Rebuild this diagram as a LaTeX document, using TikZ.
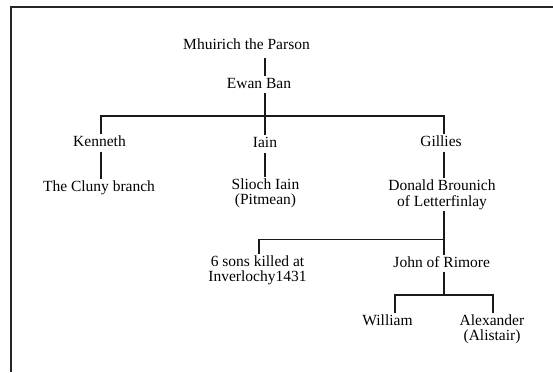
\documentclass[tikz,border=0pt]{standalone}
\usepackage{fontspec}
\setmainfont{Liberation Serif}
\begin{document}
\begin{tikzpicture}[x=1bp,y=-1bp,
  person/.style={anchor=base, inner xsep=0pt, inner ysep=2bp, align=center,
    font=\fontsize{15.5bp}{15.6bp}\selectfont},
  single/.style={person, text height=11bp, text depth=3.5bp},
  link/.style={line width=1.4bp, black!90, line cap=rect},
  frameline/.style={line width=2bp, black!85}]
\useasboundingbox[fill=white] (0,0) rectangle (553,372);
% frame (top and left edges)
\coordinate (fbl) at (11,372);
\coordinate (ftl) at (11,7.3);
\coordinate (ftr) at (553,7.3);
\draw[frameline] (fbl) -- (ftl) -- (ftr);

% column and bar coordinates
\coordinate (colA) at (101,0);
\coordinate (colB) at (265,0);
\coordinate (colC) at (444,0);
\coordinate (colD) at (259,0);
\coordinate (colE) at (395,0);
\coordinate (colF) at (493,0);
\coordinate (bar1) at (0,116);
\coordinate (bar2) at (0,239.5);
\coordinate (bar3) at (0,295);

% people (multi-line nodes are placed by the baseline of their last line)
\node[single] (m)  at (246.5,49)  {Mhuirich the Parson};
\node[single] (e)  at (259,88)    {Ewan Ban};
\node[single] (k)  at (99.5,146.7) {Kenneth};
\node[single] (i)  at (265,147.5) {Iain};
\node[single] (g)  at (441,146.7) {Gillies};
\node[single] (cl) at (99,191.7)  {The Cluny branch};
\node[person] (sl) at (265.5,204.9) {Slioch Iain\\(Pitmean)};
\node[person] (d)  at (442,206.3) {Donald Brounich\\of Letterfinlay};
\node[person] (s6) at (257.5,281.6) {6 sons killed at\\Inverlochy1431};
\node[single] (jr) at (441.7,267) {John of Rimore};
\node[single] (w)  at (387.5,325) {William};
\node[person] (a)  at (492,340.6)   {Alexander\\(Alistair)};

% connectors
\draw[link, shorten <=4bp] (m.south -| colB) -- (e.north -| colB);
\draw[link] (e.south -| colB) -- (i.north -| colB);
\draw[link] (k.north -| colA) -- (colA |- bar1) -- (colC |- bar1) -- (g.north -| colC);
\draw[link] (k.south -| colA) -- (cl.north -| colA);
\draw[link] (i.south -| colB) -- (sl.north -| colB);
\draw[link] (g.south -| colC) -- (d.north -| colC);
\draw[link] (d.south -| colC) -- (jr.north -| colC);
\draw[link] (colC |- bar2) -- (colD |- bar2) -- (s6.north -| colD);
\draw[link] (jr.south -| colC) -- (colC |- bar3);
\draw[link] (w.north -| colE) -- (colE |- bar3) -- (colF |- bar3) -- (a.north -| colF);
\end{tikzpicture}
\end{document}
